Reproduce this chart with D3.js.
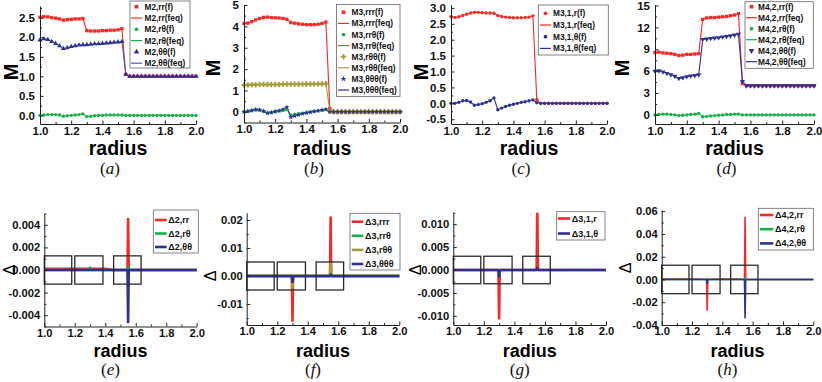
<!DOCTYPE html>
<html><head><meta charset="utf-8">
<script src="https://cdn.jsdelivr.net/npm/d3@7"></script>
<style>body{margin:0;background:#fff}svg{display:block}</style>
</head><body><svg id="c" width="822" height="382"></svg>
<script>
// ---------------- DATA ----------------
const radius = [1.000,1.025,1.050,1.075,1.100,1.125,1.150,1.175,1.200,1.225,1.250,1.275,1.300,1.325,1.350,1.375,1.400,1.425,1.450,1.475,1.500,1.525,1.550,1.575,1.600,1.625,1.650,1.675,1.700,1.725,1.750,1.775,1.800,1.825,1.850,1.875,1.900,1.925,1.950,1.975,2.000];

const M2_rr = [2.51,2.53,2.52,2.50,2.49,2.47,2.44,2.45,2.46,2.47,2.47,2.48,2.17,2.16,2.16,2.16,2.17,2.17,2.18,2.18,2.19,2.22,1.05,1.00,1.00,1.00,1.00,1.00,1.00,1.00,1.00,1.00,1.00,1.00,1.00,1.00,1.00,1.00,1.00,1.00,1.00];
const M2_rt = [0.00,0.01,0.02,0.02,0.02,0.01,-0.02,-0.01,0.00,0.01,0.02,0.04,-0.03,-0.02,-0.01,0.00,0.00,0.01,0.01,0.01,0.01,0.01,0.00,0,0,0,0,0,0,0,0,0,0,0,0,0,0,0,0,0,0];
const M2_tt = [1.93,1.96,1.94,1.89,1.84,1.78,1.71,1.73,1.76,1.78,1.80,1.81,1.81,1.82,1.83,1.83,1.84,1.85,1.86,1.87,1.88,1.89,1.05,1.00,1.00,1.00,1.00,1.00,1.00,1.00,1.00,1.00,1.00,1.00,1.00,1.00,1.00,1.00,1.00,1.00,1.00];

const M3_rrr = [4.13,4.15,4.22,4.30,4.37,4.42,4.43,4.41,4.40,4.39,4.37,4.33,4.18,4.15,4.12,4.10,4.08,4.08,4.08,4.10,4.14,4.20,0.15,0,0,0,0,0,0,0,0,0,0,0,0,0,0,0,0,0,0];
const M3_rrt = [0.00,0.02,0.05,0.08,0.07,0.02,-0.05,-0.03,0.00,0.03,0.06,0.10,-0.15,-0.12,-0.09,-0.06,-0.03,0.00,0.03,0.05,0.07,0.10,0.00,0,0,0,0,0,0,0,0,0,0,0,0,0,0,0,0,0,0];
const M3_rtt = [1.25,1.26,1.27,1.27,1.28,1.28,1.28,1.28,1.28,1.28,1.29,1.29,1.29,1.29,1.29,1.29,1.30,1.30,1.30,1.31,1.31,1.32,0.05,0,0,0,0,0,0,0,0,0,0,0,0,0,0,0,0,0,0];
const M3_ttt = [0.00,0.03,0.07,0.11,0.10,0.04,-0.06,-0.03,0.02,0.06,0.12,0.22,-0.25,-0.19,-0.14,-0.09,-0.05,-0.02,0.02,0.05,0.09,0.12,0.00,0,0,0,0,0,0,0,0,0,0,0,0,0,0,0,0,0,0];

const M31_r = [2.72,2.70,2.72,2.76,2.80,2.84,2.86,2.86,2.85,2.84,2.84,2.83,2.76,2.73,2.71,2.70,2.69,2.69,2.69,2.70,2.71,2.75,0.12,0,0,0,0,0,0,0,0,0,0,0,0,0,0,0,0,0,0];
const M31_t = [0.00,0.00,0.03,0.08,0.09,0.04,-0.06,-0.04,-0.01,0.03,0.08,0.17,-0.20,-0.15,-0.10,-0.06,-0.03,0.00,0.03,0.05,0.08,0.11,0.02,0,0,0,0,0,0,0,0,0,0,0,0,0,0,0,0,0,0];

const M42_rr = [8.55,8.60,8.50,8.45,8.40,8.30,8.15,8.20,8.30,8.30,8.35,8.40,13.10,13.30,13.35,13.35,13.40,13.45,13.50,13.60,13.70,13.90,4.30,4.00,4.00,4.00,4.00,4.00,4.00,4.00,4.00,4.00,4.00,4.00,4.00,4.00,4.00,4.00,4.00,4.00,4.00];
const M42_rt = [0.00,0.05,0.10,0.10,0.05,0.00,-0.10,-0.05,0.00,0.05,0.10,0.20,-0.25,-0.20,-0.15,-0.10,-0.05,0.00,0.05,0.05,0.10,0.10,0.00,0,0,0,0,0,0,0,0,0,0,0,0,0,0,0,0,0,0];
const M42_tt = [6.00,6.05,5.90,5.70,5.50,5.30,5.00,5.10,5.25,5.35,5.40,5.50,10.35,10.40,10.50,10.55,10.60,10.70,10.75,10.85,10.95,11.05,4.60,4.00,4.00,4.00,4.00,4.00,4.00,4.00,4.00,4.00,4.00,4.00,4.00,4.00,4.00,4.00,4.00,4.00,4.00];

const deltaRadius = [1.000,1.050,1.100,1.150,1.200,1.250,1.296,1.300,1.304,1.350,1.400,1.450,1.500,1.546,1.550,1.554,1.600,1.650,1.700,1.750,1.800,1.850,1.900,1.950,2.000];

const D2_rr = [0.0001,0.0001,0.0001,0.0001,0.0001,0.0001,0.0001,0,0.0001,0.0001,0.0001,0,0,0,0.0046,0,0,0,0,0,0,0,0,0,0];
const D2_rt = [0,0,0,0,0,0,0,0.0003,0,0,0,0,0,0,0.0003,0,0,0,0,0,0,0,0,0,0];
const D2_tt = [0,0,0,0,0,0,0,0,0,0,0,0,0,0,-0.0047,0,0,0,0,0,0,0,0,0,0];

const D3_rrr = [0,0,0,0,0,0,0,-0.0163,0,0,0,0,0,0,0.0212,0,0,0,0,0,0,0,0,0,0];
const D3_rrt = [0,0,0,0,0,0,0,0.0003,0,0,0,0,0,0,0.0004,0,0,0,0,0,0,0,0,0,0];
const D3_rtt = [0,0,0,0,0,0,0,-0.0045,0,0,0,0,0,0,0.0050,0,0,0,0,0,0,0,0,0,0];
const D3_ttt = [0,0,0,0,0,0,0,-0.0025,0,0,0,0,0,0,0.0008,0,0,0,0,0,0,0,0,0,0];

const D31_r = [0,0,0,0,0,0,0,-0.0108,0,0,0,0,0,0,0.0140,0,0,0,0,0,0,0,0,0,0];
const D31_t = [0,0,0,0,0,0,0,-0.0016,0,0,0,0,0,0,0.0005,0,0,0,0,0,0,0,0,0,0];

const D42_rr = [0.0004,0.0004,0.0004,0.0004,0.0004,0.0004,0,-0.0275,0,0.0004,0.0004,0.0004,0.0004,0,0.0550,0,0,0,0,0,0,0,0,0,0];
const D42_rt = [0,0,0,0,0,0,0,0.0010,0,0,0,0,0,0,0.0020,0,0,0,0,0,0,0,0,0,0];
const D42_tt = [0,0,0,0,0,0,0,-0.0040,0,0,0,0,0,0,-0.0340,0,0,0,0,0,0,0,0,0,0];

const boxRanges = [[1.0,1.18],[1.2,1.385],[1.455,1.635]];
const boxHalf = {e:0.00125, f:0.005, g:0.003, h:0.0125};

const xTickVals = [1.0,1.2,1.4,1.6,1.8,2.0];
const yTicks_a = [0.0,0.5,1.0,1.5,2.0,2.5];
const yTicks_b = [0,1,2,3,4,5];
const yTicks_c = [-0.5,0.0,0.5,1.0,1.5,2.0,2.5,3.0];
const yTicks_d = [0,3,6,9,12,15];
const yTicks_e = [-0.004,-0.002,0.000,0.002,0.004];
const yTicks_f = [-0.01,0.00,0.01,0.02];
const yTicks_g = [-0.010,-0.005,0.000,0.005,0.010];
const yTicks_h = [-0.04,-0.02,0.00,0.02,0.04,0.06];

// ---------------- STYLE ----------------
const C = {red:'#f42a2a', green:'#17b04b', blue:'#2d3190', olive:'#a39c3c', lav:'#5257b8'};
const SANS = "'Liberation Sans', Arial, sans-serif";
const SERIF = "'Liberation Serif', 'Times New Roman', serif";
const svg = d3.select('#c');

const symType = {square:d3.symbolSquare, circle:d3.symbolCircle, triangle:d3.symbolTriangle, tridown:d3.symbolTriangle, cross:d3.symbolCross, star:d3.symbolStar};
const symSize = {square:11, circle:9, triangle:11, tridown:11, cross:14, star:9};

const topPanels = [
  {tag:'a', x0:40, x1:196, yb:124, yt:6, yDomain:[-0.22,2.8], yTicks:yTicks_a, dec:1, ylx:11, yly:72,
   legend:{x:130,y:1,w:60,h:67,first:6.7,step:11.3,sx:136.5,tx:144.5},
   series:[{name:'M2,rr',v:M2_rr,color:C.red,sym:'square'},{name:'M2,rθ',v:M2_rt,color:C.green,sym:'circle'},{name:'M2,θθ',v:M2_tt,color:C.blue,sym:'triangle',lc:C.lav}]},
  {tag:'b', x0:244, x1:400, yb:122.5, yt:5, yDomain:[-0.5,5], yTicks:yTicks_b, dec:0, ylx:213, yly:68,
   legend:{x:336.5,y:4.5,w:63.5,h:92,first:12.3,step:11.1,sx:343.5,tx:351.5},
   series:[{name:'M3,rrr',v:M3_rrr,color:C.red,sym:'square'},{name:'M3,rrθ',v:M3_rrt,color:C.green,sym:'circle'},{name:'M3,rθθ',v:M3_rtt,color:C.olive,sym:'cross'},{name:'M3,θθθ',v:M3_ttt,color:C.blue,sym:'star'}]},
  {tag:'c', x0:451, x1:607, yb:124, yt:4.7, yDomain:[-0.65,3.1], yTicks:yTicks_c, dec:1, ylx:421, yly:72,
   legend:{x:538.3,y:5,w:70,h:50,first:13.3,step:11.7,sx:545.5,tx:553},
   series:[{name:'M3,1,r',v:M31_r,color:C.red,sym:'circle'},{name:'M3,1,θ',v:M31_t,color:C.blue,sym:'circle'}]},
  {tag:'d', x0:655, x1:814, yb:124, yt:4.8, yDomain:[-1.25,15.1], yTicks:yTicks_d, dec:0, ylx:622, yly:68,
   legend:{x:745,y:1.7,w:68.3,h:66.6,first:6.7,step:11,sx:751.5,tx:758},
   series:[{name:'M4,2,rr',v:M42_rr,color:C.red,sym:'square'},{name:'M4,2,rθ',v:M42_rt,color:C.green,sym:'circle'},{name:'M4,2,θθ',v:M42_tt,color:C.blue,sym:'tridown'}]}
];

const botPanels = [
  {tag:'e', x0:44.3, x1:196.7, yb:326.5, yt:213.5, yDomain:[-0.005,0.005], yTicks:yTicks_e, dec:3, ylx:9, yly:270, lw:2.6, half:boxHalf.e,
   legend:{x:153.3,y:210,w:45,h:43,first:220,step:13.5,lx0:155,lx1:166.7,tx:168.3},
   series:[{name:'Δ2,rr',v:D2_rr,color:C.red},{name:'Δ2,rθ',v:D2_rt,color:C.green},{name:'Δ2,θθ',v:D2_tt,color:C.blue}]},
  {tag:'f', x0:246.7, x1:399.3, yb:325, yt:212.7, yDomain:[-0.0175,0.0226], yTicks:yTicks_f, dec:2, ylx:210, yly:276, lw:2.6, half:boxHalf.f,
   legend:{x:350,y:213.3,w:50,h:56.7,first:221.7,step:14.1,lx0:351.7,lx1:363.3,tx:365},
   series:[{name:'Δ3,rrr',v:D3_rrr,color:C.red},{name:'Δ3,rrθ',v:D3_rrt,color:C.green},{name:'Δ3,rθθ',v:D3_rtt,color:C.olive},{name:'Δ3,θθθ',v:D3_ttt,color:C.blue}]},
  {tag:'g', x0:453.3, x1:606, yb:325, yt:212.7, yDomain:[-0.012,0.0125], yTicks:yTicks_g, dec:3, ylx:415, yly:270, lw:2.6, half:boxHalf.g,
   legend:{x:556.7,y:211.7,w:48.3,h:28.3,first:218.5,step:15,lx0:558,lx1:570,tx:571.7},
   series:[{name:'Δ3,1,r',v:D31_r,color:C.red},{name:'Δ3,1,θ',v:D31_t,color:C.blue}]},
  {tag:'h', x0:661.7, x1:813.3, yb:325, yt:210, yDomain:[-0.04,0.061], yTicks:yTicks_h, dec:2, ylx:625, yly:268, lw:1.6, half:boxHalf.h,
   legend:{x:758.3,y:208.3,w:55,h:41.7,first:215,step:14.2,lx0:760,lx1:773.3,tx:775},
   series:[{name:'Δ4,2,rr',v:D42_rr,color:C.red},{name:'Δ4,2,rθ',v:D42_rt,color:C.green},{name:'Δ4,2,θθ',v:D42_tt,color:C.blue}]}
];

function minors(maj, dom){
  const step = maj[1]-maj[0]; const out=[];
  for(let i=-1;i<maj.length;i++){ const m = maj[0]+step*(i+0.5); if(m>=Math.min(...dom)-1e-9 && m<=Math.max(...dom)+1e-9) out.push(m);} return out;
}

function drawAxes(g, x, y, p, xPad, yPad, fs){
  const xa = g.append('g').attr('transform',`translate(0,${p.yb})`)
    .call(d3.axisBottom(x).tickValues(xTickVals).tickFormat(d=>d.toFixed(1)).tickSizeInner(-3.5).tickSizeOuter(0).tickPadding(xPad));
  const ya = g.append('g').attr('transform',`translate(${p.x0},0)`)
    .call(d3.axisLeft(y).tickValues(p.yTicks).tickFormat(d=>d.toFixed(p.dec)).tickSizeInner(-3.5).tickSizeOuter(0).tickPadding(yPad));
  g.append('g').attr('transform',`translate(0,${p.yb})`)
    .call(d3.axisBottom(x).tickValues(minors(xTickVals,[1,2])).tickFormat('').tickSize(-2)).call(s=>s.select('.domain').remove());
  g.append('g').attr('transform',`translate(${p.x0},0)`)
    .call(d3.axisLeft(y).tickValues(minors(p.yTicks,p.yDomain)).tickFormat('').tickSize(-2)).call(s=>s.select('.domain').remove());
  g.selectAll('.domain, .tick line').attr('stroke','#222').attr('stroke-width',1);
  [xa,ya].forEach(a=>a.attr('font-family',SANS).attr('font-size',fs).attr('font-weight','bold'));
  g.selectAll('.tick text').attr('fill','#111');
}

function tagLabel(cx, baseline, letter){
  const t = svg.append('text').attr('x',cx).attr('y',baseline).attr('text-anchor','middle')
    .attr('font-family',SERIF).attr('font-size',17).attr('fill','#111');
  t.append('tspan').text('(');
  t.append('tspan').attr('font-style','italic').text(letter);
  t.append('tspan').text(')');
}

// ---------------- TOP ROW ----------------
topPanels.forEach(p=>{
  const x = d3.scaleLinear().domain([1,2]).range([p.x0,p.x1]);
  const y = d3.scaleLinear().domain(p.yDomain).range([p.yb,p.yt]);
  const g = svg.append('g');
  const line = d3.line().x((d,i)=>x(radius[i])).y(d=>y(d));
  p.series.forEach(s=>{
    g.append('path').datum(s.v).attr('d',line).attr('fill','none').attr('stroke',s.lc||s.color).attr('stroke-width',1.1);
  });
  p.series.forEach(s=>{
    g.append('g').selectAll('path').data(s.v).join('path')
      .attr('d',d3.symbol(symType[s.sym],symSize[s.sym]))
      .attr('transform',(d,i)=>`translate(${x(radius[i])},${y(d)})${s.sym==='tridown'?' rotate(180)':''}`)
      .attr('fill',s.color).attr('stroke',s.sym==='cross'?s.color:'none').attr('stroke-width',0.3);
  });
  drawAxes(g,x,y,p,2.5,5,11.5);
  svg.append('text').attr('transform',`translate(${p.ylx},${p.yly}) rotate(-90)`).attr('text-anchor','middle')
    .attr('dominant-baseline','central').attr('font-family',SANS).attr('font-weight','bold').attr('font-size',20).text('M');
  svg.append('text').attr('x',(p.x0+p.x1)/2).attr('y',155).attr('text-anchor','middle')
    .attr('font-family',SANS).attr('font-weight','bold').attr('font-size',19.5).text('radius');
  tagLabel((p.x0+p.x1)/2-8, 174, p.tag);
  const L = p.legend;
  const lg = svg.append('g');
  lg.append('rect').attr('x',L.x).attr('y',L.y).attr('width',L.w).attr('height',L.h).attr('fill','#fff').attr('stroke','#666').attr('stroke-width',0.8);
  const entries = [];
  p.series.forEach(s=>{ entries.push({label:s.name+'(f)',type:'m',s}); entries.push({label:s.name+'(feq)',type:'l',s}); });
  entries.forEach((e,i)=>{
    const cy = L.first + i*L.step;
    if(e.type==='m'){
      lg.append('path').attr('d',d3.symbol(symType[e.s.sym],symSize[e.s.sym]*1.2))
        .attr('transform',`translate(${L.sx},${cy})${e.s.sym==='tridown'?' rotate(180)':''}`).attr('fill',e.s.color);
    } else {
      lg.append('line').attr('x1',L.sx-5.5).attr('x2',L.sx+5.5).attr('y1',cy).attr('y2',cy)
        .attr('stroke',e.s.lc||e.s.color).attr('stroke-width',1.2);
    }
    lg.append('text').attr('x',L.tx).attr('y',cy).attr('dominant-baseline','central')
      .attr('font-family',SANS).attr('font-weight','bold').attr('font-size',8.3).attr('fill','#111').text(e.label);
  });
});

// ---------------- BOTTOM ROW ----------------
botPanels.forEach(p=>{
  const x = d3.scaleLinear().domain([1,2]).range([p.x0,p.x1]);
  const y = d3.scaleLinear().domain(p.yDomain).range([p.yb,p.yt]);
  const g = svg.append('g');
  const cid = 'clip'+p.tag;
  svg.append('clipPath').attr('id',cid).append('rect').attr('x',p.x0).attr('y',p.yt).attr('width',p.x1-p.x0+3).attr('height',p.yb-p.yt);
  const line = d3.line().x((d,i)=>x(deltaRadius[i])).y(d=>y(d));
  const pg = g.append('g').attr('clip-path',`url(#${cid})`);
  p.series.forEach(s=>{
    pg.append('path').datum(s.v).attr('d',line).attr('fill','none').attr('stroke',s.color)
      .attr('stroke-width',p.lw).attr('stroke-linejoin','miter').attr('stroke-miterlimit',1);
  });
  g.append('g').selectAll('rect').data(boxRanges).join('rect')
    .attr('x',d=>x(d[0])).attr('width',d=>x(d[1])-x(d[0]))
    .attr('y',y(p.half)).attr('height',y(-p.half)-y(p.half))
    .attr('fill','none').attr('stroke','#2a2a2a').attr('stroke-width',1.3);
  drawAxes(g,x,y,p,2.5,4,11.2);
  svg.append('text').attr('transform',`translate(${p.ylx},${p.yly}) rotate(-90)`).attr('text-anchor','middle')
    .attr('dominant-baseline','central').attr('font-family',SANS).attr('font-size',16).text('Δ');
  svg.append('text').attr('x',(p.x0+p.x1)/2).attr('y',357).attr('text-anchor','middle')
    .attr('font-family',SANS).attr('font-weight','bold').attr('font-size',18).text('radius');
  tagLabel((p.x0+p.x1)/2-10, 375, p.tag);
  const L = p.legend;
  const lg = svg.append('g');
  lg.append('rect').attr('x',L.x).attr('y',L.y).attr('width',L.w).attr('height',L.h).attr('fill','#fff').attr('stroke','#666').attr('stroke-width',0.8);
  p.series.forEach((s,i)=>{
    const cy = L.first + i*L.step;
    lg.append('line').attr('x1',L.lx0).attr('x2',L.lx1).attr('y1',cy).attr('y2',cy).attr('stroke',s.color).attr('stroke-width',2.6);
    lg.append('text').attr('x',L.tx).attr('y',cy).attr('dominant-baseline','central')
      .attr('font-family',SANS).attr('font-weight','bold').attr('font-size',9).attr('fill','#111').text(s.name);
  });
});
</script></body></html>
